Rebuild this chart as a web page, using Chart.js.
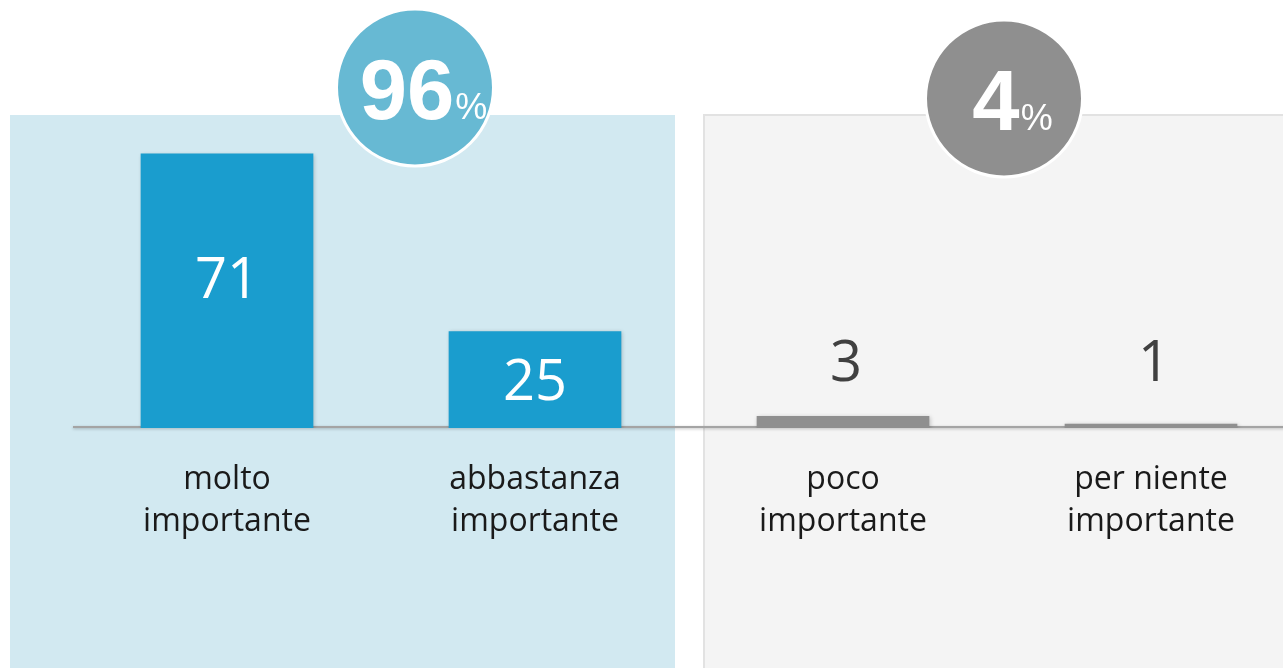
<!DOCTYPE html>
<html><head><meta charset="utf-8">
<script src="https://cdn.jsdelivr.net/npm/chart.js@4"></script>
<style>html,body{margin:0;padding:0;overflow:hidden;background:#fff;width:1283px;height:668px}canvas{display:block}</style>
</head><body>
<canvas id="c" width="1340" height="668" style="width:1340px;height:668px"></canvas>
<script>
const categories = [["molto","importante"],["abbastanza","importante"],["poco","importante"],["per niente","importante"]];
const values = [71, 25, 3, 1];
const groups = [[0, 1], [2, 3]];
const groupTotals = [96, 4];
const barColors = ['#1a9dce', '#1a9dce', '#8f8f8f', '#8f8f8f'];
const circleColors = ['#67b9d3', '#8f8f8f'];

const decor = {
  id: 'decor',
  beforeDraw(chart) {
    const {ctx, chartArea: a, scales: {x}} = chart;
    const gap = (x.getPixelForValue(1) + x.getPixelForValue(2)) / 2;
    const top = a.top + 73;
    ctx.save();
    ctx.fillStyle = '#d2e9f1';
    ctx.fillRect(a.left - 63, top, (gap - 14) - (a.left - 63), chart.height - top);
    ctx.fillStyle = '#f4f4f4';
    ctx.fillRect(gap + 14, top - 1, chart.width, chart.height);
    ctx.strokeStyle = '#e2e2e2'; ctx.lineWidth = 2;
    ctx.beginPath(); ctx.moveTo(gap + 15, chart.height); ctx.lineTo(gap + 15, top); ctx.lineTo(chart.width, top); ctx.stroke();
    ctx.restore();
  },
  beforeDatasetsDraw(chart) {
    const {ctx, chartArea: a, scales: {y}} = chart;
    const base = y.getPixelForValue(0);
    ctx.save();
    ctx.shadowColor = 'rgba(0,0,0,0.25)'; ctx.shadowBlur = 3; ctx.shadowOffsetY = 1;
    ctx.strokeStyle = '#a4a4a4'; ctx.lineWidth = 2;
    ctx.beginPath(); ctx.moveTo(a.left, base - 1); ctx.lineTo(a.right, base - 1); ctx.stroke();
    ctx.restore();
  },
  beforeDatasetDraw(chart) {
    const ctx = chart.ctx;
    ctx.save();
    ctx.shadowColor = 'rgba(0,0,0,0.22)'; ctx.shadowBlur = 4; ctx.shadowOffsetX = 1; ctx.shadowOffsetY = 1;
  },
  afterDatasetDraw(chart) { chart.ctx.restore(); },
  afterDatasetsDraw(chart) {
    const {ctx, scales: {y}} = chart;
    const base = y.getPixelForValue(0);
    const meta = chart.getDatasetMeta(0);
    ctx.save();
    ctx.font = '400 56px "Open Sans"';
    ctx.textAlign = 'center'; ctx.textBaseline = 'middle';
    meta.data.forEach((bar, i) => {
      const h = base - bar.y;
      if (h > 60) {
        ctx.fillStyle = '#ffffff';
        ctx.fillText(String(values[i]), bar.x, bar.y + Math.min(h / 2, 124) + 4);
      } else {
        ctx.fillStyle = '#404040';
        ctx.fillText(String(values[i]), bar.x + 3, base - 63);
      }
    });
    ctx.restore();
  },
  afterDraw(chart) {
    const {ctx, scales: {x}} = chart;
    const dx = [34, 7], cys = [87.5, 98.5];
    ctx.save();
    groups.forEach((g, i) => {
      const cx = (x.getPixelForValue(g[0]) + x.getPixelForValue(g[1])) / 2 + dx[i];
      const cy = cys[i];
      ctx.beginPath(); ctx.arc(cx, cy, 78.5, 0, Math.PI * 2);
      ctx.fillStyle = circleColors[i]; ctx.fill();
      ctx.strokeStyle = '#ffffff'; ctx.lineWidth = 3; ctx.stroke();
      const t1 = String(groupTotals[i]);
      ctx.font = 'bold 85px "Liberation Sans"';
      const w1 = ctx.measureText(t1).width;
      ctx.font = '36px "Liberation Sans"';
      const w2 = ctx.measureText('%').width;
      const sx = cx - (w1 + w2) / 2 + 8;
      ctx.fillStyle = '#ffffff'; ctx.textBaseline = 'alphabetic'; ctx.textAlign = 'left';
      ctx.font = 'bold 85px "Liberation Sans"';
      ctx.fillText(t1, sx, cy + 31);
      ctx.font = '36px "Liberation Sans"';
      ctx.fillText('%', sx + w1 + 1, cy + 31);
    });
    ctx.restore();
  }
};

new Chart(document.getElementById('c'), {
  type: 'bar',
  data: {
    labels: categories,
    datasets: [{ data: values, backgroundColor: barColors, borderWidth: 0, barThickness: 172 }]
  },
  options: {
    responsive: false,
    animation: false,
    devicePixelRatio: 1,
    layout: { padding: { left: 73, right: 35, top: 42, bottom: 0 } },
    plugins: { legend: { display: false }, tooltip: { enabled: false } },
    scales: {
      x: {
        grid: { display: false },
        border: { display: false },
        ticks: { color: '#1a1a1a', padding: 23, font: { family: 'Open Sans', size: 32, lineHeight: 1.3125 } },
        afterFit(s) { s.height = 240; }
      },
      y: { display: false, min: 0, max: 100 }
    }
  },
  plugins: [decor]
});
</script>
</body></html>
